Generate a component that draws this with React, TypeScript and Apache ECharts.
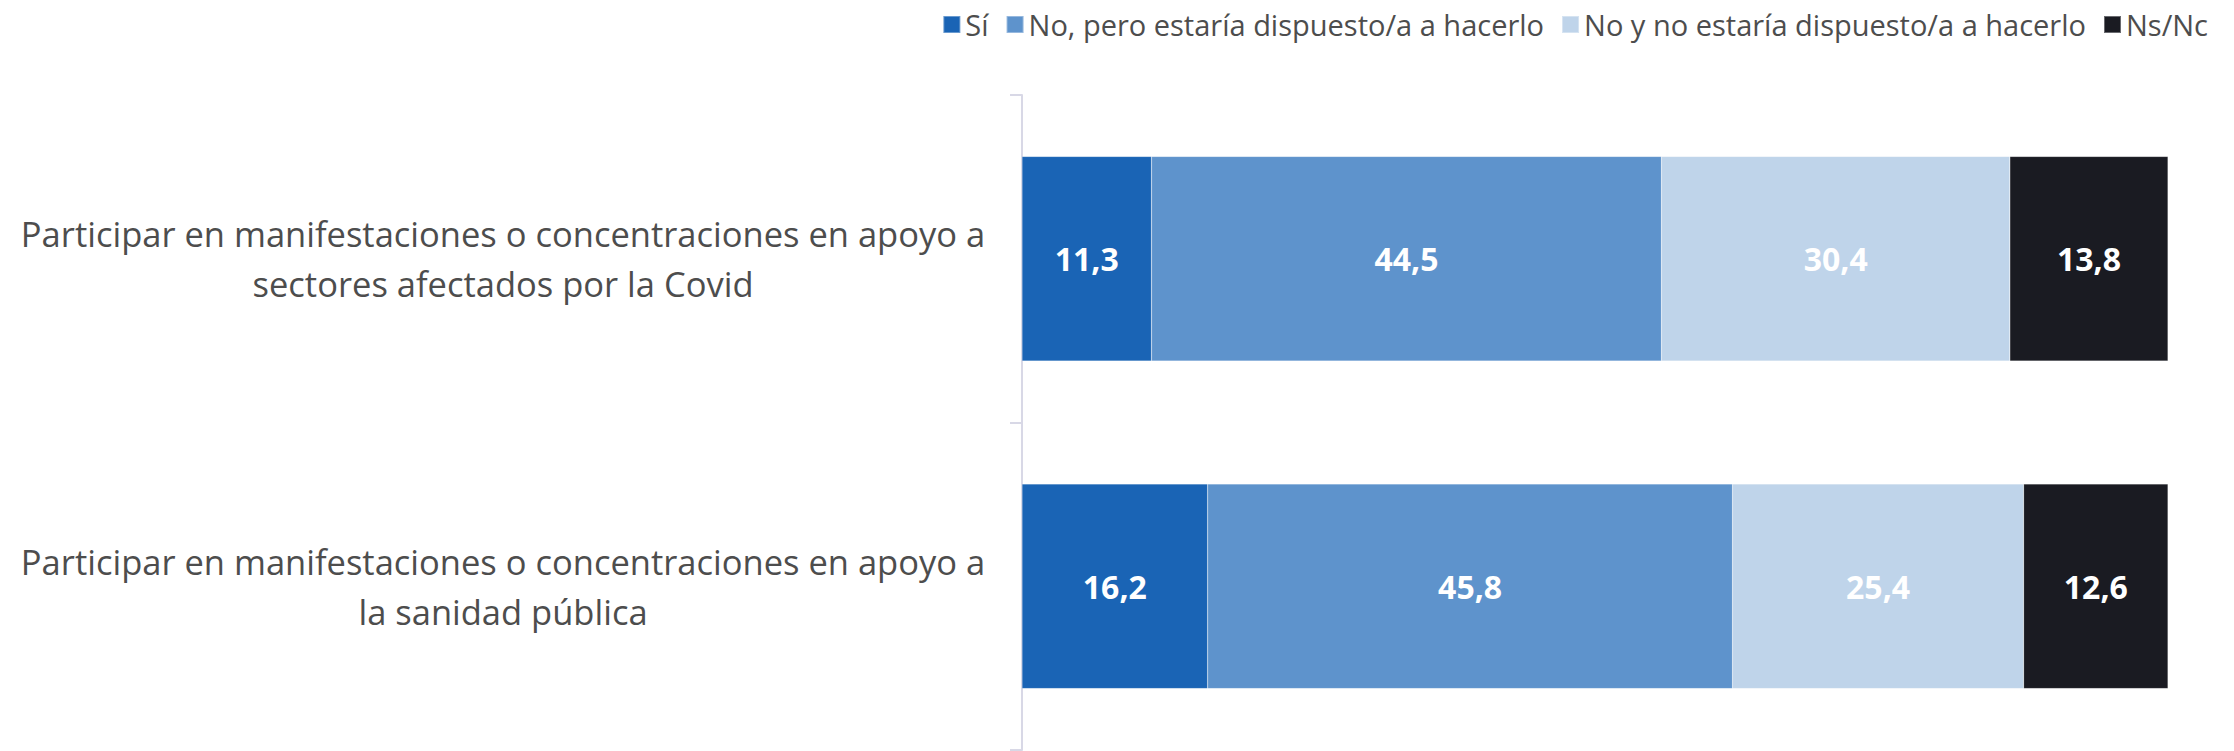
import React, { useEffect, useRef } from "react";
import * as echarts from "echarts";

const categories = [
  "Participar en manifestaciones o concentraciones en apoyo a\nsectores afectados por la Covid",
  "Participar en manifestaciones o concentraciones en apoyo a\nla sanidad pública",
];
const seriesNames = [
  "Sí",
  "No, pero estaría dispuesto/a a hacerlo",
  "No y no estaría dispuesto/a a hacerlo",
  "Ns/Nc",
];
const siValues = [11.3, 16.2];
const noPeroValues = [44.5, 45.8];
const noYNoValues = [30.4, 25.4];
const nsncValues = [13.8, 12.6];
const colors = ["#1a64b5", "#5e93cc", "#bfd4ea", "#1a1b22"];

export default function App() {
  const ref = useRef<HTMLDivElement>(null);
  useEffect(() => {
    document.body.style.margin = "0";
    if (!ref.current) return;
    const chart = echarts.init(ref.current, null, { renderer: "svg" });
    const allValues = [siValues, noPeroValues, noYNoValues, nsncValues];
    chart.setOption({
      animation: false,
      textStyle: { fontFamily: "Open Sans" },
      legend: {
        top: 5,
        right: 21,
        itemWidth: 17,
        itemHeight: 17,
        itemGap: 17,
        icon: "rect",
        textStyle: { fontSize: 29, color: "#4d4d4d", fontFamily: "Open Sans" },
        data: seriesNames,
      },
      grid: { left: 1022, right: 66, top: 95, bottom: 1 },
      xAxis: {
        type: "value",
        min: 0,
        max: 100,
        show: false,
      },
      yAxis: {
        type: "category",
        inverse: true,
        data: categories,
        axisLine: { show: true, lineStyle: { color: "#d8d8e6", width: 2 } },
        axisTick: { show: true, length: 12, lineStyle: { color: "#d8d8e6", width: 2 } },
        axisLabel: {
          margin: 36,
          align: "right",
          formatter: (v: string) =>
            v
              .split("\n")
              .map((l) => `{a|${l}}`)
              .join("\n"),
          rich: {
            a: {
              width: 966,
              align: "center",
              fontSize: 34.5,
              lineHeight: 50,
              color: "#4d4d4d",
              fontFamily: "Open Sans",
            },
          },
        },
      },
      series: seriesNames.map((name, i) => ({
        name,
        type: "bar",
        stack: "total",
        barWidth: "62.5%",
        data: allValues[i],
        itemStyle: { color: colors[i], borderColor: "rgba(255,255,255,0.35)", borderWidth: 0.5 },
        label: {
          show: true,
          position: "inside",
          color: "#ffffff",
          fontSize: 32,
          fontWeight: "bold",
          fontFamily: "Open Sans",
          formatter: (p: any) => Number(p.value).toFixed(1).replace(".", ","),
        },
      })),
    });
    return () => chart.dispose();
  }, []);
  return <div ref={ref} style={{ width: 2234, height: 751 }} />;
}
